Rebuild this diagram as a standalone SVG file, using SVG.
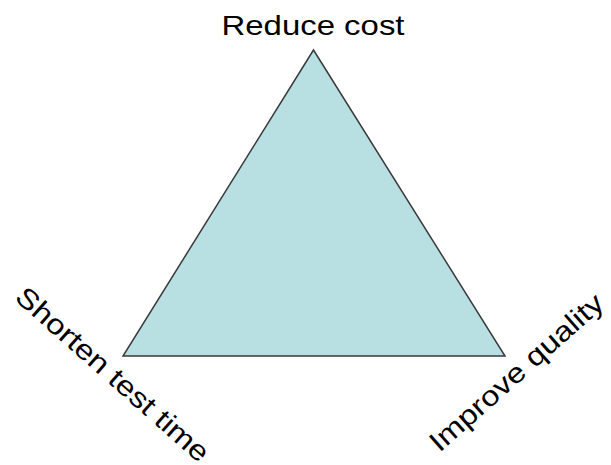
<svg xmlns="http://www.w3.org/2000/svg" width="611" height="465" viewBox="0 0 611 465">
<style>
.lbl{font-family:"Liberation Sans",Arial,sans-serif;font-size:28px;fill:#000;text-anchor:middle}
</style>
<rect width="611" height="465" fill="#fff"/>
<g id="triangle">
<polygon points="313.5,50 123,356 505,356" fill="#b8dfe2" stroke="#3a3a3a" stroke-width="1.5" stroke-linejoin="miter"/>
</g>
<g id="reduce-cost">
<text class="lbl" x="313" y="35" textLength="183" lengthAdjust="spacingAndGlyphs">Reduce cost</text>
</g>
<g id="shorten-test-time" transform="translate(113,374) rotate(41.5)">
<text class="lbl" x="0" y="10" textLength="248" lengthAdjust="spacingAndGlyphs">Shorten test time</text>
</g>
<g id="improve-quality" transform="translate(516,372) rotate(-41.5)">
<text class="lbl" x="0" y="10" textLength="222" lengthAdjust="spacingAndGlyphs">Improve quality</text>
</g>
</svg>
